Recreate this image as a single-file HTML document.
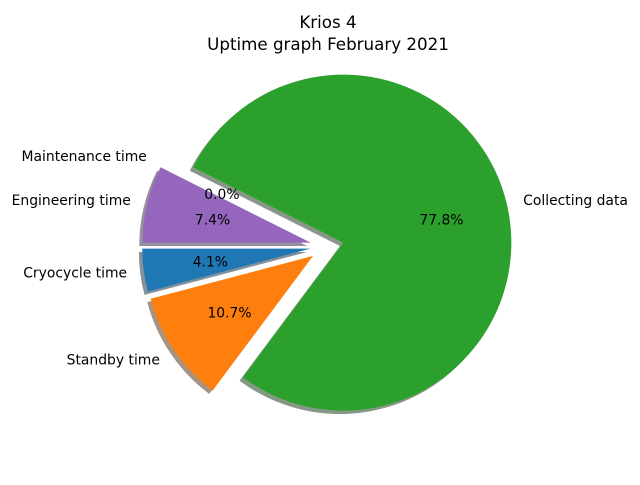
<!DOCTYPE html>
<html><head><meta charset="utf-8"><style>
body{margin:0;background:#fff}
svg text{font-family:"DejaVu Sans","Liberation Sans",sans-serif;}
</style></head><body>
<svg id="chart" width="640" height="480" viewBox="0 0 640 480">
<text x="328" y="28" text-anchor="middle" font-size="16.7">Krios 4</text>
<text x="328" y="50" text-anchor="middle" font-size="16.7">Uptime graph February 2021</text>
<g id="shadows"></g><g id="wedges"></g><g id="labels"></g>
</svg>
<script>
const categories = ["Cryocycle time","Standby time","Collecting data","Maintenance time","Engineering time"];
const values = [4.1, 10.7, 77.8, 0.0, 7.4];
const colors = ["#1f77b4","#ff7f0e","#2ca02c","#d62728","#9467bd"];
const explode = [0.1, 0.1, 0.1, 0.1, 0.1];
const startAngle = 180;

const NS="http://www.w3.org/2000/svg";
const cx=327, cy=246.5, R=168;
const total=values.reduce((a,b)=>a+b,0);
const sh=document.getElementById('shadows'), wg=document.getElementById('wedges'), lb=document.getElementById('labels');
function pt(x,y,r,deg){const a=deg*Math.PI/180;return [x+r*Math.cos(a), y-r*Math.sin(a)];}
function wedgePath(x,y,a1,a2){
  const p1=pt(x,y,R,a1), p2=pt(x,y,R,a2);
  const large=(a2-a1)>180?1:0;
  return `M${x},${y} L${p1[0]},${p1[1]} A${R},${R} 0 ${large} 0 ${p2[0]},${p2[1]} Z`;
}
function shadowColor(hex){
  const n=parseInt(hex.slice(1),16);const c=[(n>>16)&255,(n>>8)&255,n&255];
  return `rgb(${c.map(v=>Math.round(0.3*v*0.5+127.5)).join(',')})`;
}
let a=startAngle;
values.forEach((v,i)=>{
  const sweep=v/total*360, a1=a, a2=a+sweep, mid=(a1+a2)/2;
  const [wx,wy]=pt(cx,cy,explode[i]*R,mid);
  const key=categories[i].toLowerCase().replace(/\s+/g,'-');
  if(sweep>0){
    const s=document.createElementNS(NS,'path');
    s.setAttribute('d',wedgePath(wx-3.4,wy+3.4,a1,a2));
    s.setAttribute('fill',shadowColor(colors[i]));
    
    
    sh.appendChild(s);
    const w=document.createElementNS(NS,'path');
    w.setAttribute('d',wedgePath(wx,wy,a1,a2));
    w.setAttribute('fill',colors[i]);
    
    
    wg.appendChild(w);
  }
  const [lx,ly]=pt(wx,wy,1.1*R,mid);
  const t=document.createElementNS(NS,'text');
  t.setAttribute('x',lx);t.setAttribute('y',ly+5);t.setAttribute('font-size','13.9');
  t.setAttribute('text-anchor',lx<wx?'end':'start');
  t.textContent=categories[i];
  
  
  lb.appendChild(t);
  const [px,py]=pt(wx,wy,0.6*R,mid);
  const p=document.createElementNS(NS,'text');
  p.setAttribute('x',px);p.setAttribute('y',py+5);p.setAttribute('font-size','13.9');
  p.setAttribute('text-anchor','middle');
  p.textContent=v.toFixed(1)+'%';
  
  
  lb.appendChild(p);
  a=a2;
});
</script>
</body></html>
